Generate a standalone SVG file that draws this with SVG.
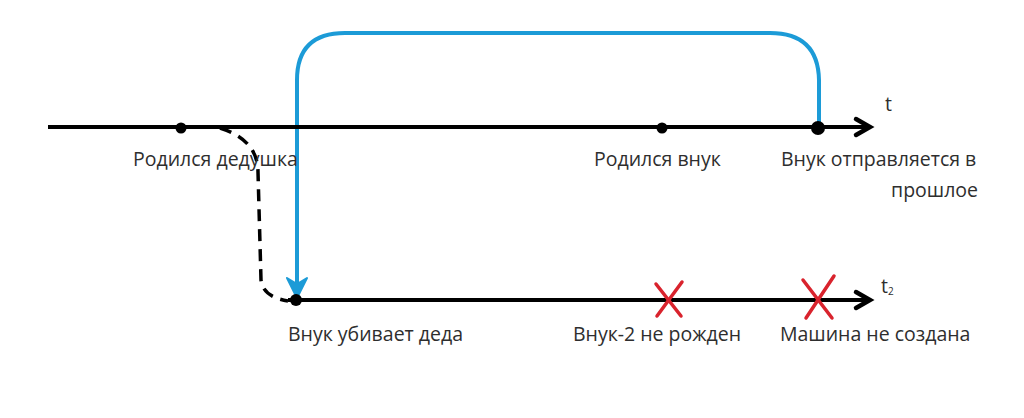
<svg xmlns="http://www.w3.org/2000/svg" width="1024" height="418" viewBox="0 0 1024 418">
<style>
.lbl{font-family:"Open Sans","Liberation Sans",sans-serif;font-size:19.5px;fill:#2e2e2e}
.axis{stroke:#000;stroke-width:4;fill:none}
.head{stroke:#000;stroke-width:4.5;fill:none;stroke-linecap:round;stroke-linejoin:miter}
.dot{fill:#000}
.cross{stroke:#d9232d;stroke-width:3.5;stroke-linecap:round}
</style>
<rect width="1024" height="418" fill="#fff"/>
<g id="connectors">
<path id="time-travel" d="M819,122 L819,80 Q818,33 770,33 L345,33 Q297,33 297,80 L297,284" fill="none" stroke="#1c9bd7" stroke-width="4"/>
<path d="M287,278 L297,284 L307,278 L297,298 Z" fill="#1c9bd7" stroke="#1c9bd7" stroke-width="2" stroke-linejoin="round"/>
<path id="dashed" d="M220,128 Q258,140 258,172 L261,280 Q263,297 288,301" fill="none" stroke="#000" stroke-width="3.5" stroke-dasharray="12,8"/>
</g>
<g id="timeline-t">
<line class="axis" x1="48" y1="127" x2="868" y2="127"/>
<path class="head" d="M856,119 L870,127 L856,135"/>
<text class="lbl" x="885" y="111" font-size="15">t</text>
</g>
<g id="timeline-t2">
<line class="axis" x1="288" y1="300" x2="868" y2="300"/>
<path class="head" d="M856,292 L870,300 L856,308"/>
<text class="lbl" x="881" y="293" font-size="15">t<tspan font-size="10" dy="2">2</tspan></text>
</g>
<g id="grandfather-born">
<circle class="dot" cx="181" cy="128" r="5.5"/>
<text class="lbl" x="133" y="166">Родился дедушка</text>
</g>
<g id="grandson-born">
<circle class="dot" cx="662" cy="128" r="5.5"/>
<text class="lbl" x="594" y="166">Родился внук</text>
</g>
<g id="grandson-departs">
<circle class="dot" cx="818" cy="128" r="7"/>
<text class="lbl" x="781" y="166">Внук отправляется в</text>
<text class="lbl" x="978" y="197" text-anchor="end">прошлое</text>
</g>
<g id="grandson-kills">
<circle class="dot" cx="296" cy="300" r="6"/>
<text class="lbl" x="288" y="341">Внук убивает деда</text>
</g>
<g id="grandson2-not-born">
<line class="cross" x1="656" y1="284" x2="681" y2="316"/>
<line class="cross" x1="682" y1="282" x2="657" y2="316"/>
<text class="lbl" x="573" y="341">Внук-2 не рожден</text>
</g>
<g id="machine-not-created">
<line class="cross" x1="803" y1="280" x2="832" y2="318"/>
<line class="cross" x1="834" y1="276" x2="806" y2="318"/>
<text class="lbl" x="780" y="341">Машина не создана</text>
</g>
</svg>
